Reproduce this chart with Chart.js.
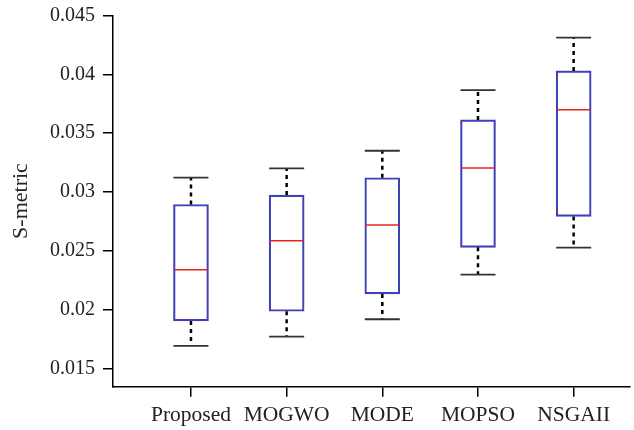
<!DOCTYPE html>
<html>
<head>
<meta charset="utf-8">
<script src="https://cdn.jsdelivr.net/npm/chart.js@4/dist/chart.umd.min.js"></script>
<style>
  html, body { margin: 0; padding: 0; background: #fff; }
  #wrap { width: 634px; height: 430px; }
</style>
</head>
<body>
<div id="wrap"><canvas id="c" width="634" height="430"></canvas></div>
<script>
const categories = ['Proposed', 'MOGWO', 'MODE', 'MOPSO', 'NSGAII'];
const whiskerLow  = [0.01696, 0.01775, 0.01922, 0.02300, 0.02529];
const q1          = [0.01908, 0.01990, 0.02137, 0.02532, 0.02794];
const median      = [0.02342, 0.02588, 0.02721, 0.03204, 0.03698];
const q3          = [0.02895, 0.02975, 0.03122, 0.03613, 0.04028];
const whiskerHigh = [0.03124, 0.03201, 0.03351, 0.03865, 0.04310];
const yTicks = [0.015, 0.02, 0.025, 0.03, 0.035, 0.04, 0.045];
const yLabel = 'S-metric';

const FONT = "'Liberation Serif', 'Times New Roman', serif";
const BOX_W = 35;

const boxPlugin = {
  id: 'boxExtras',
  afterDatasetsDraw(chart) {
    const ctx = chart.ctx;
    const xs = chart.scales.x, ys = chart.scales.y;
    categories.forEach((c, i) => {
      const x = xs.getPixelForValue(i + 1);
      const yLo = ys.getPixelForValue(whiskerLow[i]);
      const yQ1 = ys.getPixelForValue(q1[i]);
      const yMed = ys.getPixelForValue(median[i]);
      const yQ3 = ys.getPixelForValue(q3[i]);
      const yHi = ys.getPixelForValue(whiskerHigh[i]);
      ctx.save();
      ctx.strokeStyle = '#000';
      ctx.lineWidth = 2.5;
      ctx.setLineDash([4, 4]);
      ctx.beginPath();
      ctx.moveTo(x, yQ3); ctx.lineTo(x, yHi);
      ctx.moveTo(x, yQ1); ctx.lineTo(x, yLo);
      ctx.stroke();
      ctx.setLineDash([]);
      ctx.strokeStyle = '#333';
      ctx.lineWidth = 1.8;
      ctx.beginPath();
      ctx.moveTo(x - BOX_W / 2, yHi); ctx.lineTo(x + BOX_W / 2, yHi);
      ctx.moveTo(x - BOX_W / 2, yLo); ctx.lineTo(x + BOX_W / 2, yLo);
      ctx.stroke();
      ctx.strokeStyle = '#e8231c';
      ctx.lineWidth = 1.5;
      ctx.beginPath();
      ctx.moveTo(x - BOX_W / 2 + 1, yMed); ctx.lineTo(x + BOX_W / 2 - 1, yMed);
      ctx.stroke();
      ctx.restore();
    });
  }
};

new Chart(document.getElementById('c'), {
  type: 'bar',
  data: {
    datasets: [{
      data: categories.map((c, i) => ({ x: i + 1, y: [q1[i], q3[i]] })),
      backgroundColor: 'rgba(255,255,255,0)',
      borderColor: 'rgb(64,64,185)',
      borderWidth: 1.5,
      borderSkipped: false,
      barThickness: BOX_W
    }]
  },
  options: {
    responsive: false,
    animation: false,
    devicePixelRatio: 1,
    layout: { padding: { left: 0, top: 15.3, right: 4, bottom: 0 } },
    plugins: { legend: { display: false }, tooltip: { enabled: false } },
    scales: {
      x: {
        type: 'linear',
        offset: false,
        min: 0.185,
        max: 5.589,
        afterBuildTicks: (axis) => { axis.ticks = categories.map((c, i) => ({ value: i + 1 })); },
        afterFit: (axis) => { axis.height = 43.3; },
        ticks: {
          autoSkip: false,
          maxRotation: 0,
          padding: 6,
          color: '#222',
          font: { family: FONT, size: 21.5 },
          callback: (v) => categories[Math.round(v) - 1] || ''
        },
        grid: { offset: false, drawOnChartArea: false, drawTicks: true, tickLength: 10, color: '#000', lineWidth: 1.5 },
        border: { display: true, color: '#000', width: 1.5 }
      },
      y: {
        type: 'linear',
        min: 0.0135,
        max: 0.045,
        afterBuildTicks: (axis) => { axis.ticks = yTicks.map(v => ({ value: v })); },
        afterFit: (axis) => { axis.width = 113; axis.paddingTop = 0; axis.paddingBottom = 0; },
        ticks: {
          padding: 8,
          color: '#222',
          font: { family: FONT, size: 20 },
          callback: (v) => String(parseFloat(Number(v).toFixed(3)))
        },
        title: {
          display: true,
          text: yLabel,
          color: '#222',
          font: { family: FONT, size: 22 },
          padding: { top: 8, bottom: 0 }
        },
        grid: { drawOnChartArea: false, drawTicks: true, tickLength: 10, color: '#000', lineWidth: 1.5 },
        border: { display: true, color: '#000', width: 1.5 }
      }
    }
  },
  plugins: [boxPlugin]
});
</script>
</body>
</html>
